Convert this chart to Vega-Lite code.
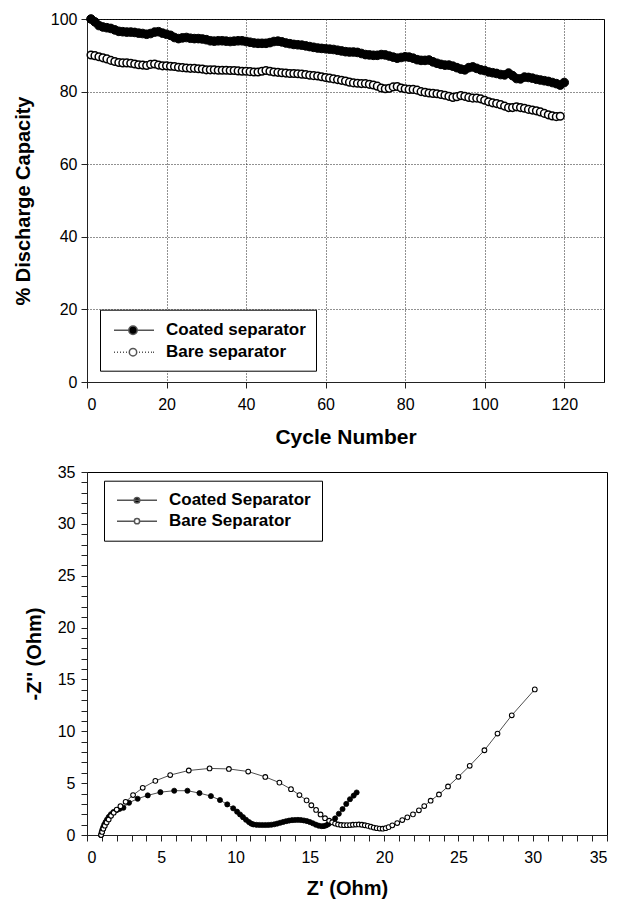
{
  "$schema": "https://vega.github.io/schema/vega-lite/v6.json",
  "background": "white",
  "padding": {"left": 12, "top": 10, "right": 5, "bottom": 4},
  "spacing": 15,
  "datasets": {
    "coatedCycle": [
      {"cycle":1,"pct":100},{"cycle":2,"pct":99.2},{"cycle":3,"pct":98.2},{"cycle":4,"pct":97.8},{"cycle":5,"pct":97.6},{"cycle":6,"pct":97.4},{"cycle":7,"pct":97.0},{"cycle":8,"pct":96.6},{"cycle":9,"pct":96.5},{"cycle":10,"pct":96.4},
      {"cycle":11,"pct":96.4},{"cycle":12,"pct":96.3},{"cycle":13,"pct":96.1},{"cycle":14,"pct":96.0},{"cycle":15,"pct":95.8},{"cycle":16,"pct":96.0},{"cycle":17,"pct":96.4},{"cycle":18,"pct":96.5},{"cycle":19,"pct":96.1},{"cycle":20,"pct":95.8},
      {"cycle":21,"pct":95.5},{"cycle":22,"pct":94.9},{"cycle":23,"pct":94.6},{"cycle":24,"pct":94.8},{"cycle":25,"pct":94.9},{"cycle":26,"pct":94.7},{"cycle":27,"pct":94.6},{"cycle":28,"pct":94.6},{"cycle":29,"pct":94.5},{"cycle":30,"pct":94.3},
      {"cycle":31,"pct":94.0},{"cycle":32,"pct":93.9},{"cycle":33,"pct":94.0},{"cycle":34,"pct":94.0},{"cycle":35,"pct":93.9},{"cycle":36,"pct":93.8},{"cycle":37,"pct":93.9},{"cycle":38,"pct":94.0},{"cycle":39,"pct":94.0},{"cycle":40,"pct":93.8},
      {"cycle":41,"pct":93.6},{"cycle":42,"pct":93.4},{"cycle":43,"pct":93.3},{"cycle":44,"pct":93.3},{"cycle":45,"pct":93.3},{"cycle":46,"pct":93.5},{"cycle":47,"pct":93.8},{"cycle":48,"pct":93.9},{"cycle":49,"pct":93.7},{"cycle":50,"pct":93.4},
      {"cycle":51,"pct":93.2},{"cycle":52,"pct":93.0},{"cycle":53,"pct":92.9},{"cycle":54,"pct":92.8},{"cycle":55,"pct":92.6},{"cycle":56,"pct":92.4},{"cycle":57,"pct":92.2},{"cycle":58,"pct":92.0},{"cycle":59,"pct":91.9},{"cycle":60,"pct":91.8},
      {"cycle":61,"pct":91.7},{"cycle":62,"pct":91.6},{"cycle":63,"pct":91.4},{"cycle":64,"pct":91.2},{"cycle":65,"pct":91.0},{"cycle":66,"pct":90.9},{"cycle":67,"pct":90.9},{"cycle":68,"pct":90.8},{"cycle":69,"pct":90.5},{"cycle":70,"pct":90.2},
      {"cycle":71,"pct":90.1},{"cycle":72,"pct":90.0},{"cycle":73,"pct":90.0},{"cycle":74,"pct":90.2},{"cycle":75,"pct":90.1},{"cycle":76,"pct":89.8},{"cycle":77,"pct":89.5},{"cycle":78,"pct":89.2},{"cycle":79,"pct":89.4},{"cycle":80,"pct":89.6},
      {"cycle":81,"pct":89.5},{"cycle":82,"pct":89.2},{"cycle":83,"pct":88.8},{"cycle":84,"pct":88.6},{"cycle":85,"pct":88.6},{"cycle":86,"pct":88.7},{"cycle":87,"pct":88.2},{"cycle":88,"pct":87.8},{"cycle":89,"pct":87.5},{"cycle":90,"pct":87.3},
      {"cycle":91,"pct":87.3},{"cycle":92,"pct":87.0},{"cycle":93,"pct":86.6},{"cycle":94,"pct":86.2},{"cycle":95,"pct":86.0},{"cycle":96,"pct":86.6},{"cycle":97,"pct":86.8},{"cycle":98,"pct":86.4},{"cycle":99,"pct":86.0},{"cycle":100,"pct":85.8},
      {"cycle":101,"pct":85.4},{"cycle":102,"pct":85.2},{"cycle":103,"pct":85.0},{"cycle":104,"pct":84.7},{"cycle":105,"pct":84.6},{"cycle":106,"pct":85.1},{"cycle":107,"pct":84.4},{"cycle":108,"pct":83.6},{"cycle":109,"pct":83.5},{"cycle":110,"pct":84.0},
      {"cycle":111,"pct":83.9},{"cycle":112,"pct":83.7},{"cycle":113,"pct":83.4},{"cycle":114,"pct":83.2},{"cycle":115,"pct":83.0},{"cycle":116,"pct":82.8},{"cycle":117,"pct":82.5},{"cycle":118,"pct":82.2},{"cycle":119,"pct":81.8},{"cycle":120,"pct":82.5}
    ],
    "bareCycle": [
      {"cycle":1,"pct":90.1},{"cycle":2,"pct":89.9},{"cycle":3,"pct":89.6},{"cycle":4,"pct":89.3},{"cycle":5,"pct":89.0},{"cycle":6,"pct":88.6},{"cycle":7,"pct":88.3},{"cycle":8,"pct":88.0},{"cycle":9,"pct":87.9},{"cycle":10,"pct":87.9},
      {"cycle":11,"pct":87.8},{"cycle":12,"pct":87.6},{"cycle":13,"pct":87.4},{"cycle":14,"pct":87.3},{"cycle":15,"pct":87.2},{"cycle":16,"pct":87.5},{"cycle":17,"pct":87.6},{"cycle":18,"pct":87.3},{"cycle":19,"pct":87.1},{"cycle":20,"pct":87.1},
      {"cycle":21,"pct":87.0},{"cycle":22,"pct":86.9},{"cycle":23,"pct":86.7},{"cycle":24,"pct":86.6},{"cycle":25,"pct":86.5},{"cycle":26,"pct":86.4},{"cycle":27,"pct":86.4},{"cycle":28,"pct":86.3},{"cycle":29,"pct":86.2},{"cycle":30,"pct":86.0},
      {"cycle":31,"pct":86.0},{"cycle":32,"pct":86.0},{"cycle":33,"pct":85.9},{"cycle":34,"pct":85.9},{"cycle":35,"pct":85.9},{"cycle":36,"pct":85.8},{"cycle":37,"pct":85.8},{"cycle":38,"pct":85.7},{"cycle":39,"pct":85.6},{"cycle":40,"pct":85.6},
      {"cycle":41,"pct":85.5},{"cycle":42,"pct":85.4},{"cycle":43,"pct":85.4},{"cycle":44,"pct":85.6},{"cycle":45,"pct":85.8},{"cycle":46,"pct":85.6},{"cycle":47,"pct":85.4},{"cycle":48,"pct":85.3},{"cycle":49,"pct":85.2},{"cycle":50,"pct":85.1},
      {"cycle":51,"pct":85.0},{"cycle":52,"pct":85.0},{"cycle":53,"pct":84.9},{"cycle":54,"pct":84.8},{"cycle":55,"pct":84.7},{"cycle":56,"pct":84.5},{"cycle":57,"pct":84.4},{"cycle":58,"pct":84.3},{"cycle":59,"pct":84.1},{"cycle":60,"pct":83.9},
      {"cycle":61,"pct":83.7},{"cycle":62,"pct":83.5},{"cycle":63,"pct":83.3},{"cycle":64,"pct":83.1},{"cycle":65,"pct":82.9},{"cycle":66,"pct":82.6},{"cycle":67,"pct":82.4},{"cycle":68,"pct":82.3},{"cycle":69,"pct":82.2},{"cycle":70,"pct":82.2},
      {"cycle":71,"pct":82.0},{"cycle":72,"pct":81.8},{"cycle":73,"pct":81.5},{"cycle":74,"pct":81.0},{"cycle":75,"pct":80.8},{"cycle":76,"pct":80.9},{"cycle":77,"pct":81.3},{"cycle":78,"pct":81.4},{"cycle":79,"pct":81.0},{"cycle":80,"pct":80.8},
      {"cycle":81,"pct":80.6},{"cycle":82,"pct":80.6},{"cycle":83,"pct":80.4},{"cycle":84,"pct":80.0},{"cycle":85,"pct":79.8},{"cycle":86,"pct":79.6},{"cycle":87,"pct":79.5},{"cycle":88,"pct":79.4},{"cycle":89,"pct":79.2},{"cycle":90,"pct":79.0},
      {"cycle":91,"pct":78.7},{"cycle":92,"pct":78.4},{"cycle":93,"pct":78.6},{"cycle":94,"pct":78.9},{"cycle":95,"pct":78.7},{"cycle":96,"pct":78.4},{"cycle":97,"pct":78.2},{"cycle":98,"pct":78.2},{"cycle":99,"pct":78.0},{"cycle":100,"pct":77.6},
      {"cycle":101,"pct":77.2},{"cycle":102,"pct":76.9},{"cycle":103,"pct":76.7},{"cycle":104,"pct":76.4},{"cycle":105,"pct":76.0},{"cycle":106,"pct":75.6},{"cycle":107,"pct":75.6},{"cycle":108,"pct":75.8},{"cycle":109,"pct":75.6},{"cycle":110,"pct":75.4},
      {"cycle":111,"pct":75.1},{"cycle":112,"pct":74.9},{"cycle":113,"pct":74.7},{"cycle":114,"pct":74.4},{"cycle":115,"pct":74.0},{"cycle":116,"pct":73.6},{"cycle":117,"pct":73.3},{"cycle":118,"pct":73.1},{"cycle":119,"pct":73.2}
    ],
    "coatedEIS": [
      {"zr":0.94,"zi":0.0},{"zr":0.98,"zi":0.25},{"zr":1.03,"zi":0.5},{"zr":1.09,"zi":0.75},{"zr":1.16,"zi":1.0},{"zr":1.25,"zi":1.25},{"zr":1.35,"zi":1.5},{"zr":1.47,"zi":1.75},{"zr":1.61,"zi":2.0},{"zr":1.78,"zi":2.22},{"zr":2.0,"zi":2.4},{"zr":2.2,"zi":2.52},
      {"zr":2.45,"zi":2.63},{"zr":2.83,"zi":3.11},{"zr":3.41,"zi":3.5},{"zr":4.09,"zi":3.82},{"zr":4.94,"zi":4.13},{"zr":5.87,"zi":4.27},{"zr":6.76,"zi":4.27},{"zr":7.57,"zi":4.04},{"zr":8.34,"zi":3.75},{"zr":8.95,"zi":3.37},{"zr":9.44,"zi":2.95},{"zr":9.84,"zi":2.57},
      {"zr":10.1,"zi":2.25},{"zr":10.3,"zi":1.98},{"zr":10.5,"zi":1.72},{"zr":10.7,"zi":1.47},{"zr":10.9,"zi":1.25},{"zr":11.05,"zi":1.1},{"zr":11.2,"zi":1.02},{"zr":11.4,"zi":0.98},{"zr":11.6,"zi":0.97},{"zr":11.8,"zi":0.96},{"zr":12.0,"zi":0.96},{"zr":12.2,"zi":0.97},
      {"zr":12.4,"zi":0.99},{"zr":12.6,"zi":1.03},{"zr":12.8,"zi":1.1},{"zr":13.0,"zi":1.18},{"zr":13.2,"zi":1.26},{"zr":13.4,"zi":1.33},{"zr":13.6,"zi":1.39},{"zr":13.8,"zi":1.43},{"zr":14.0,"zi":1.45},{"zr":14.2,"zi":1.46},{"zr":14.4,"zi":1.44},{"zr":14.6,"zi":1.4},
      {"zr":14.8,"zi":1.34},{"zr":15.0,"zi":1.25},{"zr":15.2,"zi":1.13},{"zr":15.4,"zi":1.0},{"zr":15.6,"zi":0.9},{"zr":15.8,"zi":0.85},{"zr":15.95,"zi":0.86},{"zr":16.1,"zi":0.93},{"zr":16.25,"zi":1.05},{"zr":16.45,"zi":1.25},{"zr":16.7,"zi":1.6},{"zr":16.95,"zi":2.05},
      {"zr":17.2,"zi":2.5},{"zr":17.45,"zi":3.0},{"zr":17.7,"zi":3.45},{"zr":17.95,"zi":3.8},{"zr":18.15,"zi":4.1}
    ],
    "bareEIS": [
      {"zr":0.95,"zi":0.0},{"zr":1.02,"zi":0.3},{"zr":1.1,"zi":0.6},{"zr":1.2,"zi":0.9},{"zr":1.32,"zi":1.2},{"zr":1.46,"zi":1.5},{"zr":1.62,"zi":1.85},{"zr":1.8,"zi":2.15},{"zr":2.0,"zi":2.45},{"zr":2.25,"zi":2.78},{"zr":2.6,"zi":3.2},{"zr":3.1,"zi":3.85},
      {"zr":3.75,"zi":4.55},{"zr":4.6,"zi":5.22},{"zr":5.6,"zi":5.78},{"zr":6.85,"zi":6.22},{"zr":8.25,"zi":6.42},{"zr":9.55,"zi":6.37},{"zr":10.85,"zi":6.12},{"zr":12.0,"zi":5.6},{"zr":12.95,"zi":5.05},{"zr":13.73,"zi":4.42},{"zr":14.3,"zi":3.85},{"zr":14.78,"zi":3.34},
      {"zr":15.1,"zi":2.87},{"zr":15.42,"zi":2.42},{"zr":15.72,"zi":1.98},{"zr":16.02,"zi":1.62},{"zr":16.3,"zi":1.38},{"zr":16.5,"zi":1.22},{"zr":16.7,"zi":1.1},{"zr":16.9,"zi":1.02},{"zr":17.1,"zi":0.97},{"zr":17.3,"zi":0.95},{"zr":17.5,"zi":0.95},{"zr":17.7,"zi":0.96},
      {"zr":17.9,"zi":0.99},{"zr":18.1,"zi":1.01},{"zr":18.3,"zi":1.02},{"zr":18.5,"zi":0.99},{"zr":18.7,"zi":0.94},{"zr":18.9,"zi":0.88},{"zr":19.1,"zi":0.8},{"zr":19.3,"zi":0.72},{"zr":19.5,"zi":0.66},{"zr":19.7,"zi":0.62},{"zr":19.9,"zi":0.61},{"zr":20.1,"zi":0.66},
      {"zr":20.3,"zi":0.76},{"zr":20.55,"zi":0.93},{"zr":20.88,"zi":1.15},{"zr":21.22,"zi":1.44},{"zr":21.56,"zi":1.7},{"zr":21.94,"zi":1.99},{"zr":22.34,"zi":2.38},{"zr":22.7,"zi":2.79},{"zr":23.13,"zi":3.31},{"zr":23.69,"zi":3.91},{"zr":24.3,"zi":4.68},{"zr":25.0,"zi":5.61},
      {"zr":25.76,"zi":6.67},{"zr":26.75,"zi":8.17},{"zr":27.63,"zi":9.78},{"zr":28.59,"zi":11.54},{"zr":30.14,"zi":14.04}
    ],
    "seriesA": [{"series": "Coated separator"}, {"series": "Bare separator"}],
    "seriesB": [{"series": "Coated Separator"}, {"series": "Bare Separator"}],
    "tagA": [{"tag": "(a)"}],
    "tagB": [{"tag": "(b)"}]
  },
  "vconcat": [
    {
      "width": 517,
      "height": 363,
      "encoding": {
        "x": {"field": "cycle", "type": "quantitative", "scale": {"domain": [0, 130], "nice": false, "zero": false},
              "axis": {"values": [0, 20, 40, 60, 80, 100, 120], "title": "Cycle Number", "grid": true, "titlePadding": 14.5, "titleFontSize": 21}},
        "y": {"field": "pct", "type": "quantitative", "scale": {"domain": [0, 100], "nice": false, "zero": false},
              "axis": {"values": [0, 20, 40, 60, 80, 100], "title": "% Discharge Capacity", "grid": true, "titlePadding": 17, "labelPadding": 4}}
      },
      "layer": [
        {"data": {"name": "coatedCycle"}, "mark": {"type": "line", "color": "#555", "strokeWidth": 1}},
        {"data": {"name": "coatedCycle"}, "mark": {"type": "point", "shape": "circle", "filled": true, "fill": "black", "stroke": "black", "strokeWidth": 1, "size": 75, "opacity": 1}},
        {"data": {"name": "bareCycle"}, "mark": {"type": "line", "color": "#555", "strokeWidth": 1, "strokeDash": [1, 2]}},
        {"data": {"name": "bareCycle"}, "mark": {"type": "point", "shape": "circle", "filled": false, "fill": "white", "stroke": "black", "strokeWidth": 1.5, "size": 58, "opacity": 1}},
        {"data": {"name": "tagA"}, "mark": {"type": "text", "align": "right", "baseline": "middle", "fontSize": 20, "fontWeight": "bold", "font": "Liberation Sans", "color": "black"},
         "encoding": {"x": {"datum": 118.8}, "y": {"datum": 9.45}, "text": {"field": "tag"}}},
        {"data": {"name": "seriesA"}, "transform": [{"filter": "false"}],
         "mark": {"type": "point", "size": 100, "strokeWidth": 1, "stroke": "#555", "opacity": 1, "filled": false},
         "encoding": {
           "shape": {"field": "series", "type": "nominal",
             "scale": {"domain": ["Coated separator", "Bare separator"],
                       "range": ["M-0.9,0H2.06M3.74,0H7.1M3.74,0A0.84,0.84,0,1,1,2.06,0A0.84,0.84,0,1,1,3.74,0Z",
                                 "M-0.9,0h0.2M-0.3,0h0.2M0.3,0h0.2M0.9,0h0.2M1.5,0h0.2M4.1,0h0.2M4.7,0h0.2M5.3,0h0.2M5.9,0h0.2M6.5,0h0.2M6.9,0h0.2M3.64,0A0.74,0.74,0,1,1,2.16,0A0.74,0.74,0,1,1,3.64,0Z"]},
             "legend": {"title": " ", "titleFontSize": 1, "titlePadding": 1, "orient": "none", "legendX": 13, "legendY": 290.7, "padding": 10, "strokeColor": "black", "fillColor": "white", "labelOffset": 39, "rowPadding": 4, "labelFontSize": 17, "labelFontWeight": "bold", "labelFont": "Liberation Sans", "labelColor": "black", "labelLimit": 300}},
           "fill": {"field": "series", "type": "nominal",
             "scale": {"domain": ["Coated separator", "Bare separator"], "range": ["black", "white"]},
             "legend": {"title": " ", "titleFontSize": 1, "titlePadding": 1, "orient": "none", "legendX": 13, "legendY": 290.7, "padding": 10, "strokeColor": "black", "fillColor": "white", "labelOffset": 39, "rowPadding": 4, "labelFontSize": 17, "labelFontWeight": "bold", "labelFont": "Liberation Sans", "labelColor": "black", "labelLimit": 300}}
         }}
      ],
      "resolve": {"scale": {"shape": "independent", "fill": "independent"}}
    },
    {
      "width": 520,
      "height": 363,
      "encoding": {
        "x": {"field": "zr", "type": "quantitative", "scale": {"domain": [0, 35], "nice": false, "zero": false},
              "axis": {"values": [0,1,2,3,4,5,6,7,8,9,10,11,12,13,14,15,16,17,18,19,20,21,22,23,24,25,26,27,28,29,30,31,32,33,34,35],
                       "labelExpr": "datum.value % 5 === 0 ? datum.label : ''", "labelOverlap": false, "title": "Z' (Ohm)", "grid": false, "titlePadding": 13,
                       "encode": {"ticks": {"update": {"y2": {"signal": "datum.value % 5 === 0 ? 6 : -4"}}}}}},
        "y": {"field": "zi", "type": "quantitative", "scale": {"domain": [0, 35], "nice": false, "zero": false},
              "axis": {"values": [0,1,2,3,4,5,6,7,8,9,10,11,12,13,14,15,16,17,18,19,20,21,22,23,24,25,26,27,28,29,30,31,32,33,34,35],
                       "labelExpr": "datum.value % 5 === 0 ? datum.label : ''", "labelOverlap": false, "title": "-Z'' (Ohm)", "grid": false, "titlePadding": 12.4, "labelPadding": 6,
                       "encode": {"ticks": {"update": {"x2": {"signal": "datum.value % 5 === 0 ? -6 : 4"}}}}}}
      },
      "layer": [
        {"data": {"name": "coatedEIS"}, "mark": {"type": "line", "color": "#222", "strokeWidth": 0.8}},
        {"data": {"name": "coatedEIS"}, "mark": {"type": "point", "shape": "circle", "filled": true, "fill": "black", "stroke": "black", "strokeWidth": 0.8, "size": 26, "opacity": 1}},
        {"data": {"name": "bareEIS"}, "mark": {"type": "line", "color": "#222", "strokeWidth": 0.8}},
        {"data": {"name": "bareEIS"}, "mark": {"type": "point", "shape": "circle", "filled": false, "fill": "white", "stroke": "black", "strokeWidth": 1.1, "size": 22, "opacity": 1}},
        {"data": {"name": "tagB"}, "mark": {"type": "text", "align": "right", "baseline": "middle", "fontSize": 20, "fontWeight": "bold", "font": "Liberation Sans", "color": "black"},
         "encoding": {"x": {"datum": 32.23}, "y": {"datum": 4.12}, "text": {"field": "tag"}}},
        {"data": {"name": "seriesB"}, "transform": [{"filter": "false"}],
         "mark": {"type": "point", "size": 100, "strokeWidth": 1, "stroke": "#555", "opacity": 1, "filled": false},
         "encoding": {
           "shape": {"field": "series", "type": "nominal",
             "scale": {"domain": ["Coated Separator", "Bare Separator"],
                       "range": ["M-1.3,0H6.7M3.26,0A0.56,0.56,0,1,1,2.14,0A0.56,0.56,0,1,1,3.26,0Z",
                                 "M-1.3,0H2.18M3.22,0H6.7M3.22,0A0.52,0.52,0,1,1,2.18,0A0.52,0.52,0,1,1,3.22,0Z"]},
             "legend": {"title": null, "orient": "none", "legendX": 17, "legendY": 8.7, "padding": 11, "strokeColor": "black", "fillColor": "white", "labelOffset": 37, "rowPadding": 3, "labelFontSize": 17, "labelFontWeight": "bold", "labelFont": "Liberation Sans", "labelColor": "black", "labelLimit": 300}},
           "fill": {"field": "series", "type": "nominal",
             "scale": {"domain": ["Coated Separator", "Bare Separator"], "range": ["black", "white"]},
             "legend": {"title": null, "orient": "none", "legendX": 17, "legendY": 8.7, "padding": 11, "strokeColor": "black", "fillColor": "white", "labelOffset": 37, "rowPadding": 3, "labelFontSize": 17, "labelFontWeight": "bold", "labelFont": "Liberation Sans", "labelColor": "black", "labelLimit": 300}}
         }}
      ],
      "resolve": {"scale": {"shape": "independent", "fill": "independent"}}
    }
  ],
  "resolve": {"scale": {"x": "independent", "y": "independent", "shape": "independent", "fill": "independent"}, "legend": {"shape": "independent", "fill": "independent"}},
  "config": {
    "font": "Liberation Sans",
    "view": {"stroke": "black", "strokeWidth": 1},
    "axis": {"labelFont": "Liberation Sans", "labelFontSize": 16, "labelColor": "black", "titleFont": "Liberation Sans", "titleFontSize": 20, "titleFontWeight": "bold", "titleColor": "black",
             "domainColor": "#222", "tickColor": "#222", "tickSize": 6, "labelPadding": 4, "gridColor": "#222", "gridDash": [1, 2], "gridOpacity": 1, "gridWidth": 1},
    "axisX": {"labelPadding": 8}
  }
}
